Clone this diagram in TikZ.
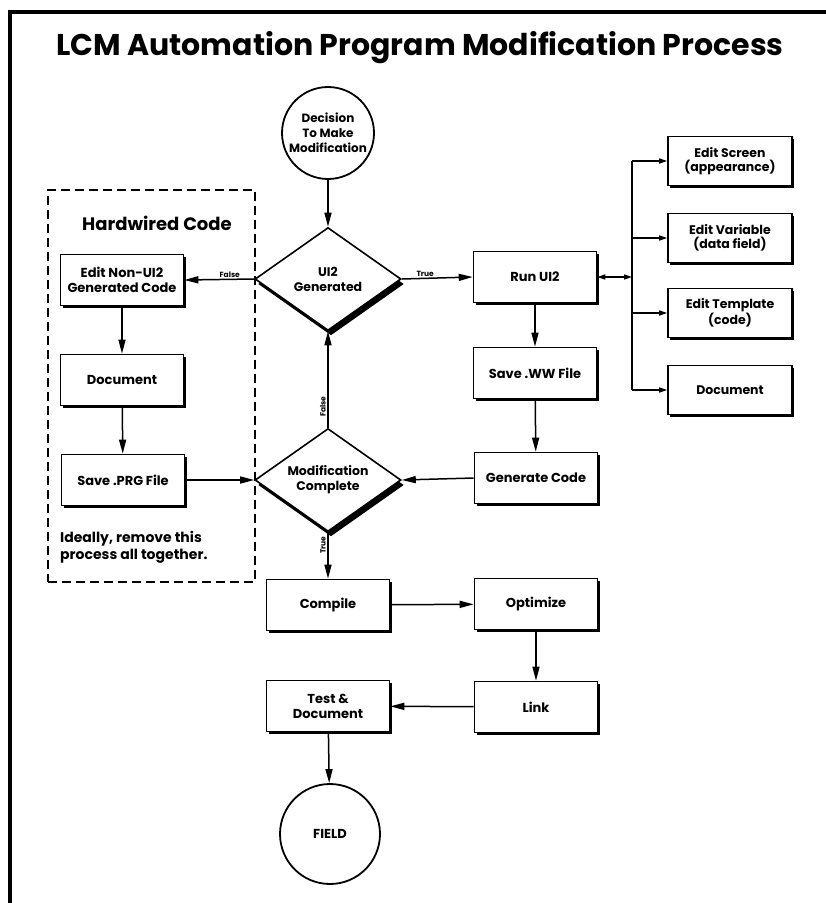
\documentclass[tikz,border=0pt]{standalone}
\usepackage{fontspec}
\setmainfont{Poppins}
\usetikzlibrary{shapes.geometric,arrows.meta,shadows}
\begin{document}
\begin{tikzpicture}[x=1pt,y=-1pt,
  shade/.style={drop shadow={shadow xshift=2pt,shadow yshift=-2.5pt,opacity=1,fill=black}},
  box/.style={draw,line width=1.6pt,fill=white,shade,minimum width=123pt,minimum height=51pt,
    inner sep=2pt,align=center,font=\bfseries\fontsize{13}{15}\selectfont},
  sbox/.style={box,minimum width=124pt,minimum height=49pt,font=\bfseries\fontsize{12.5}{14}\selectfont},
  dec/.style={draw,line width=1.6pt,fill=white,diamond,aspect=1.42,inner sep=0pt,
    minimum width=146pt,minimum height=103pt,align=center,
    drop shadow={shadow xshift=3pt,shadow yshift=-5pt,opacity=1,fill=black},
    font=\bfseries\fontsize{12.5}{15}\selectfont},
  term/.style={draw,line width=1.8pt,circle,fill=white,inner sep=0pt,align=center,
    font=\bfseries\fontsize{12}{15}\selectfont},
  conn/.style={line width=1.5pt,-{Triangle[length=14pt,width=7pt]}},
  sconn/.style={line width=1.5pt,-{Triangle[length=8pt,width=5pt]}},
  lab/.style={font=\bfseries\fontsize{7.5}{8}\selectfont,inner sep=1.5pt}]
\useasboundingbox (0,0) rectangle (826,903);
\fill[white] (0,0) rectangle (826,903);
% frame
\draw[line width=4pt] (826,12) -- (10,12) -- (10,903);
% title
\node (title) at (420,48) {\bfseries\fontsize{30}{34}\selectfont LCM Automation Program Modification Process};
% hardwired container
\node[draw,line width=1.5pt,dash pattern=on 9pt off 5pt,minimum width=207pt,minimum height=392pt,inner sep=0pt] (hw) at (151.5,386) {};
\node (hwtitle) at (157,223) {\bfseries\fontsize{18}{20}\selectfont Hardwired Code};
\node[anchor=west,align=left,inner sep=0pt,font=\bfseries\fontsize{14}{17}\selectfont] (note) at (60,547) {Ideally, remove this\\process all together.};
% nodes
\node[term,minimum size=92pt] (start) at (328,133) {Decision\\To Make\\Modification};
\node[dec] (ui2) at (328,279) {UI2\\Generated};
\node[dec] (mod) at (328,480) {Modification\\Complete};
\node[box] (edit) at (122,280) {Edit Non-UI2\\Generated Code};
\node[box] (docl) at (122,380) {Document};
\node[box] (prg) at (123,480) {Save .PRG File};
\node[box] (run) at (535,277) {Run UI2};
\node[box] (ww) at (535,373) {Save .WW File};
\node[box] (gen) at (536,478) {Generate Code};
\node[box] (comp) at (328,605) {Compile};
\node[box] (opt) at (536,604) {Optimize};
\node[box] (link) at (536,707) {Link};
\node[box] (test) at (328,706) {Test \&\\Document};
\node[term,minimum size=100pt,font=\bfseries\fontsize{13}{15}\selectfont] (field) at (330,834) {FIELD};
\node[sbox] (scr) at (730,161) {Edit Screen\\(appearance)};
\node[sbox] (var) at (730,238) {Edit Variable\\(data field)};
\node[sbox] (tpl) at (730,313) {Edit Template\\(code)};
\node[sbox] (docr) at (730,390) {Document};
% bus
\coordinate (bt) at (632,161);
\coordinate (bm) at (632,277);
\coordinate (bb) at (632,390);
\coordinate (bv) at (632,238);
\coordinate (bp) at (632,313);
\draw[line width=1.5pt] (bt) -- (bb);
\draw[line width=1.5pt,{Triangle[length=8pt,width=5pt]}-{Triangle[length=8pt,width=5pt]}] (run.east) -- (bm);
\draw[sconn] (bt) -- (scr.west);
\draw[sconn] (bv) -- (var.west);
\draw[sconn] (bp) -- (tpl.west);
\draw[sconn] (bb) -- (docr.west);
% connectors
\draw[conn] (start) -- (ui2.north);
\draw[conn] (ui2.west) -- node[lab,above,pos=0.35] {False} (edit.east);
\draw[conn] (ui2.east) -- node[lab,above,pos=0.33] {True} (run.west);
\draw[conn] (edit) -- (docl);
\draw[conn] (docl) -- (prg);
\draw[conn] (prg.east) -- (mod.west);
\draw[conn] (run) -- (ww);
\draw[conn] (ww) -- (gen);
\draw[conn] (gen.west) -- (mod.east);
\draw[conn] (mod.north) -- node[lab,pos=0.22,rotate=90,anchor=south] {False} (ui2.south);
\draw[conn] (mod.south) -- node[lab,pos=0.28,rotate=90,anchor=south] {True} (comp.north);
\draw[conn] (comp) -- (opt);
\draw[conn] (opt) -- (link);
\draw[conn] (link) -- (test);
\draw[conn] (test) -- (field);
\end{tikzpicture}
\end{document}
